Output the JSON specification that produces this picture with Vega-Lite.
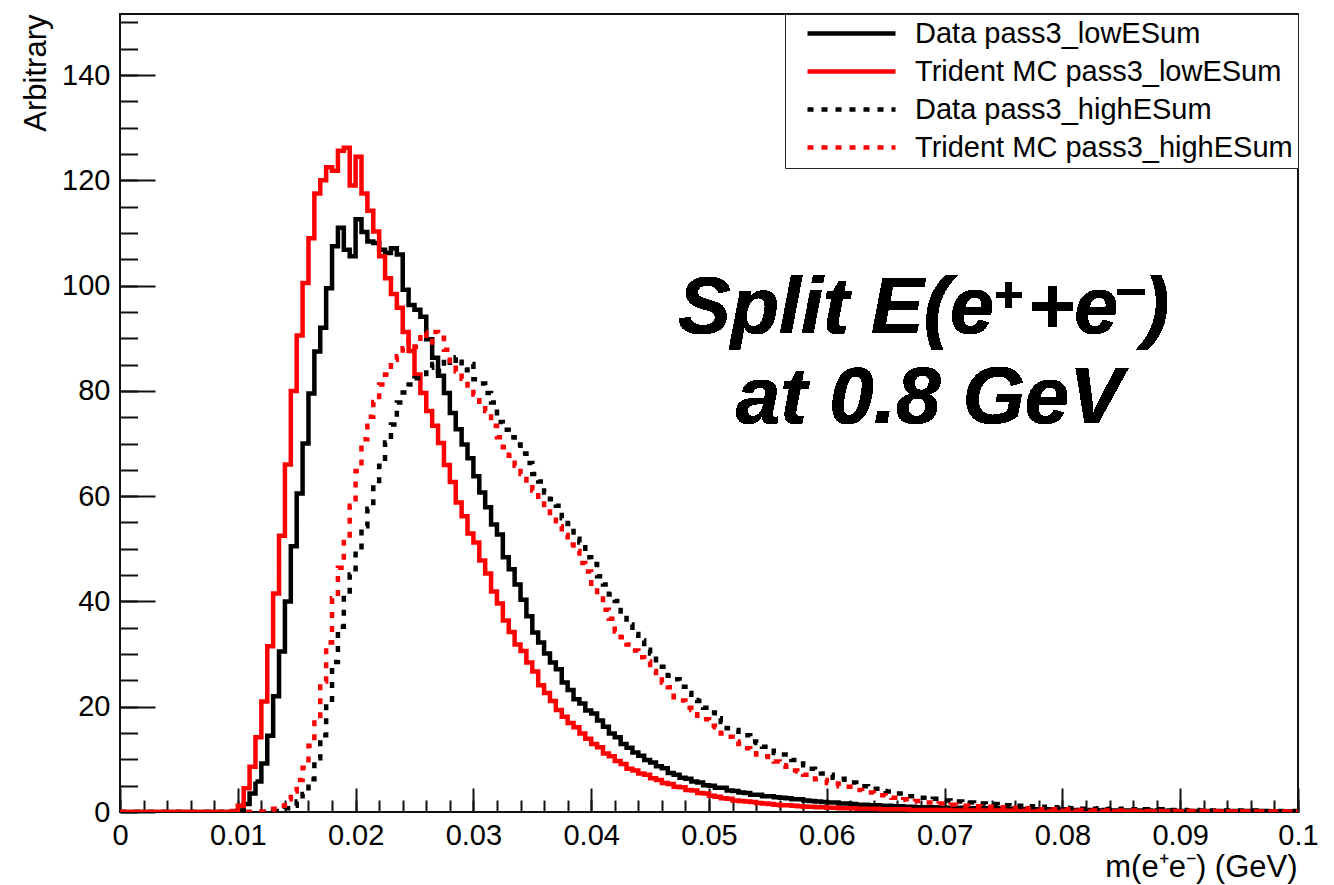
{
"$schema": "https://vega.github.io/schema/vega-lite/v6.json",
"width": 1178, "height": 798,
"autosize": {"type": "none"},
"padding": {"left": 120, "top": 14, "right": 36, "bottom": 73},
"background": "white",
"config": {"view": {"stroke": "#111", "strokeWidth": 2}, "font": "Liberation Sans"},
"data": {"values": [
{"m":0,"a":0,"b":0,"c":0,"d":0},{"m":0.0005,"a":0,"b":0,"c":0,"d":0},{"m":0.001,"a":0,"b":0,"c":0,"d":0},{"m":0.0015,"a":0,"b":0,"c":0,"d":0},{"m":0.002,"a":0,"b":0,"c":0,"d":0},
{"m":0.0025,"a":0,"b":0,"c":0,"d":0},{"m":0.003,"a":0,"b":0,"c":0,"d":0},{"m":0.0035,"a":0,"b":0,"c":0,"d":0},{"m":0.004,"a":0,"b":0,"c":0,"d":0},{"m":0.0045,"a":0,"b":0,"c":0,"d":0},
{"m":0.005,"a":0,"b":0,"c":0,"d":0},{"m":0.0055,"a":0,"b":0,"c":0,"d":0},{"m":0.006,"a":0,"b":0,"c":0,"d":0},{"m":0.0065,"a":0,"b":0,"c":0,"d":0},{"m":0.007,"a":0,"b":0,"c":0,"d":0},
{"m":0.0075,"a":0,"b":0,"c":0,"d":0},{"m":0.008,"a":0,"b":0,"c":0,"d":0},{"m":0.0085,"a":0,"b":0,"c":0,"d":0},{"m":0.009,"a":0,"b":0,"c":0,"d":0},
{"m":0.0095,"a":0,"b":0.2,"c":0,"d":0},
{"m":0.01,"a":0.3,"b":1.2,"c":0,"d":0},
{"m":0.0105,"a":1.5,"b":4.5,"c":0,"d":0},
{"m":0.011,"a":3.5,"b":8.6,"c":0,"d":0},
{"m":0.0115,"a":5.8,"b":14.2,"c":0,"d":0},
{"m":0.012,"a":9.2,"b":21,"c":0,"d":0.1},
{"m":0.0125,"a":14.5,"b":31.5,"c":0.1,"d":0.3},
{"m":0.013,"a":22,"b":41.5,"c":0.2,"d":0.6},
{"m":0.0135,"a":30.5,"b":52.5,"c":0.4,"d":1.2},
{"m":0.014,"a":40,"b":66,"c":0.7,"d":2.4},
{"m":0.0145,"a":50.5,"b":80,"c":1.2,"d":3.9},
{"m":0.015,"a":60.5,"b":90.5,"c":2,"d":6.1},
{"m":0.0155,"a":70,"b":100.5,"c":3.4,"d":8.4},
{"m":0.016,"a":79.5,"b":109,"c":6.2,"d":12.6},
{"m":0.0165,"a":87.5,"b":117.5,"c":10.2,"d":17.6},
{"m":0.017,"a":92,"b":120,"c":14.6,"d":24.8},
{"m":0.0175,"a":99.5,"b":122.5,"c":20.5,"d":32.2},
{"m":0.018,"a":107.5,"b":121.8,"c":28.5,"d":40.6},
{"m":0.0185,"a":111,"b":125.6,"c":35.2,"d":46.4},
{"m":0.019,"a":106.8,"b":126.2,"c":41.2,"d":51.3},
{"m":0.0195,"a":105.6,"b":119,"c":45.1,"d":58.2},
{"m":0.02,"a":112.6,"b":124.5,"c":49.8,"d":64.8},
{"m":0.0205,"a":110.2,"b":117.5,"c":54.3,"d":70.8},
{"m":0.021,"a":108.4,"b":114.2,"c":57.6,"d":75.1},
{"m":0.0215,"a":108.1,"b":110.3,"c":62.3,"d":77.9},
{"m":0.022,"a":106.8,"b":105.6,"c":65.8,"d":81.2},
{"m":0.0225,"a":106.2,"b":101.4,"c":70.2,"d":83.1},
{"m":0.023,"a":107.1,"b":98.4,"c":73.6,"d":85.9},
{"m":0.0235,"a":105.9,"b":95.8,"c":77.8,"d":86.6},
{"m":0.024,"a":99.2,"b":91.2,"c":79.7,"d":88.1},
{"m":0.0245,"a":96.3,"b":87.6,"c":81.2,"d":89.6},
{"m":0.025,"a":95.4,"b":83.1,"c":82.4,"d":88.4},
{"m":0.0255,"a":94.1,"b":79.6,"c":83.2,"d":91.1},
{"m":0.026,"a":89.8,"b":76.2,"c":84.4,"d":89.2},
{"m":0.0265,"a":86.3,"b":73.4,"c":85.1,"d":91.2},
{"m":0.027,"a":82.9,"b":70.1,"c":83.8,"d":90.1},
{"m":0.0275,"a":79.6,"b":65.9,"c":86.2,"d":87.8},
{"m":0.028,"a":75.8,"b":62.7,"c":84.9,"d":85.2},
{"m":0.0285,"a":72.7,"b":58.8,"c":86.4,"d":83.7},
{"m":0.029,"a":69.8,"b":56.2,"c":83.9,"d":82.3},
{"m":0.0295,"a":67.2,"b":52.9,"c":85.1,"d":80.6},
{"m":0.03,"a":63.8,"b":51.2,"c":82.2,"d":79.3},
{"m":0.0305,"a":60.7,"b":47.8,"c":81.4,"d":77.4},
{"m":0.031,"a":57.9,"b":45.3,"c":79.6,"d":76.2},
{"m":0.0315,"a":54.6,"b":41.9,"c":77.8,"d":73.4},
{"m":0.032,"a":52.7,"b":39.6,"c":74.1,"d":71.2},
{"m":0.0325,"a":48.4,"b":36.4,"c":72.6,"d":69.3},
{"m":0.033,"a":46.1,"b":34.2,"c":71.2,"d":67.7},
{"m":0.0335,"a":43.2,"b":31.8,"c":69.8,"d":65.8},
{"m":0.034,"a":40.3,"b":30.6,"c":68.1,"d":64.2},
{"m":0.0345,"a":37.2,"b":28.4,"c":66.3,"d":62.4},
{"m":0.035,"a":34.1,"b":26.7,"c":64.2,"d":61.1},
{"m":0.0355,"a":32.2,"b":24.1,"c":62.8,"d":59.3},
{"m":0.036,"a":30.1,"b":22.6,"c":60.7,"d":57.6},
{"m":0.0365,"a":28.4,"b":21.1,"c":59.4,"d":56.2},
{"m":0.037,"a":27.1,"b":19.4,"c":58.2,"d":54.3},
{"m":0.0375,"a":24.6,"b":18.1,"c":55.8,"d":52.6},
{"m":0.038,"a":23.2,"b":16.9,"c":54.7,"d":50.8},
{"m":0.0385,"a":21.4,"b":16.1,"c":51.9,"d":49.6},
{"m":0.039,"a":20.6,"b":14.9,"c":51.2,"d":47.3},
{"m":0.0395,"a":19.3,"b":13.9,"c":48.4,"d":45.7},
{"m":0.04,"a":18.7,"b":12.9,"c":47.1,"d":42.9},
{"m":0.0405,"a":17.4,"b":12.3,"c":44.8,"d":41.2},
{"m":0.041,"a":16.2,"b":11.1,"c":43.2,"d":38.4},
{"m":0.0415,"a":14.9,"b":10.6,"c":41.3,"d":36.7},
{"m":0.042,"a":14.2,"b":9.7,"c":40.1,"d":34.3},
{"m":0.0425,"a":12.9,"b":9.1,"c":37.4,"d":33.2},
{"m":0.043,"a":12.2,"b":8.2,"c":35.6,"d":31.8},
{"m":0.0435,"a":11.3,"b":7.9,"c":33.8,"d":30.7},
{"m":0.044,"a":10.7,"b":7.3,"c":32.6,"d":29.4},
{"m":0.0445,"a":9.9,"b":7.1,"c":30.8,"d":28.6},
{"m":0.045,"a":9.4,"b":6.4,"c":30.1,"d":26.8},
{"m":0.0455,"a":8.7,"b":6.1,"c":28.3,"d":25.7},
{"m":0.046,"a":8.3,"b":5.5,"c":27.6,"d":24.6},
{"m":0.0465,"a":7.4,"b":5.3,"c":25.9,"d":23.7},
{"m":0.047,"a":7.1,"b":4.8,"c":25.2,"d":21.8},
{"m":0.0475,"a":6.5,"b":4.7,"c":23.8,"d":21.2},
{"m":0.048,"a":6.3,"b":4.2,"c":22.6,"d":19.8},
{"m":0.0485,"a":5.8,"b":4.1,"c":21.3,"d":19.4},
{"m":0.049,"a":5.6,"b":3.6,"c":21.1,"d":18.3},
{"m":0.0495,"a":5.1,"b":3.5,"c":19.8,"d":17.6},
{"m":0.05,"a":5,"b":3.1,"c":18.9,"d":16.4},
{"m":0.0505,"a":4.6,"b":2.9,"c":17.8,"d":16.1},
{"m":0.051,"a":4.6,"b":2.6,"c":17.1,"d":14.9},
{"m":0.0515,"a":4.1,"b":2.5,"c":15.9,"d":14.3},
{"m":0.052,"a":4,"b":2.2,"c":15.6,"d":13.4},
{"m":0.0525,"a":3.7,"b":2.1,"c":14.8,"d":12.9},
{"m":0.053,"a":3.6,"b":2,"c":14.6,"d":12.1},
{"m":0.0535,"a":3.3,"b":1.9,"c":13.4,"d":11.6},
{"m":0.054,"a":3.3,"b":1.7,"c":13.1,"d":10.9},
{"m":0.0545,"a":3,"b":1.6,"c":12.4,"d":10.6},
{"m":0.055,"a":3,"b":1.5,"c":12.1,"d":9.9},
{"m":0.0555,"a":2.8,"b":1.4,"c":11.2,"d":9.6},
{"m":0.056,"a":2.7,"b":1.3,"c":10.9,"d":8.9},
{"m":0.0565,"a":2.6,"b":1.3,"c":10.2,"d":8.6},
{"m":0.057,"a":2.4,"b":1.2,"c":9.9,"d":7.9},
{"m":0.0575,"a":2.4,"b":1.1,"c":9.2,"d":7.7},
{"m":0.058,"a":2.2,"b":1,"c":8.9,"d":7.1},
{"m":0.0585,"a":2.1,"b":1,"c":8.2,"d":6.9},
{"m":0.059,"a":2,"b":0.9,"c":8,"d":6.2},
{"m":0.0595,"a":1.9,"b":0.9,"c":7.3,"d":6.1},
{"m":0.06,"a":1.8,"b":0.8,"c":7.1,"d":5.5},
{"m":0.0605,"a":1.8,"b":0.8,"c":6.5,"d":5.4},
{"m":0.061,"a":1.6,"b":0.7,"c":6.3,"d":4.9},
{"m":0.0615,"a":1.6,"b":0.7,"c":5.7,"d":4.8},
{"m":0.062,"a":1.5,"b":0.7,"c":5.6,"d":4.3},
{"m":0.0625,"a":1.4,"b":0.6,"c":5,"d":4.2},
{"m":0.063,"a":1.4,"b":0.6,"c":4.9,"d":3.7},
{"m":0.0635,"a":1.3,"b":0.6,"c":4.4,"d":3.7},
{"m":0.064,"a":1.3,"b":0.6,"c":4.4,"d":3.2},
{"m":0.0645,"a":1.2,"b":0.5,"c":4,"d":3.2},
{"m":0.065,"a":1.2,"b":0.5,"c":3.9,"d":2.8},
{"m":0.0655,"a":1.1,"b":0.5,"c":3.5,"d":2.7},
{"m":0.066,"a":1.1,"b":0.5,"c":3.5,"d":2.3},
{"m":0.0665,"a":1,"b":0.5,"c":3,"d":2.4},
{"m":0.067,"a":1,"b":0.4,"c":3,"d":2},
{"m":0.0675,"a":0.9,"b":0.4,"c":2.7,"d":2.1},
{"m":0.068,"a":0.9,"b":0.4,"c":2.7,"d":1.8},
{"m":0.0685,"a":0.9,"b":0.4,"c":2.4,"d":1.8},
{"m":0.069,"a":0.9,"b":0.4,"c":2.5,"d":1.5},
{"m":0.0695,"a":0.8,"b":0.4,"c":2.2,"d":1.6},
{"m":0.07,"a":0.8,"b":0.4,"c":2.2,"d":1.3},
{"m":0.0705,"a":0.8,"b":0.3,"c":1.9,"d":1.4},
{"m":0.071,"a":0.8,"b":0.3,"c":2,"d":1.2},
{"m":0.0715,"a":0.7,"b":0.3,"c":1.7,"d":1.2},
{"m":0.072,"a":0.7,"b":0.3,"c":1.8,"d":1},
{"m":0.0725,"a":0.7,"b":0.3,"c":1.5,"d":1.1},
{"m":0.073,"a":0.7,"b":0.3,"c":1.6,"d":0.9},
{"m":0.0735,"a":0.6,"b":0.3,"c":1.4,"d":1},
{"m":0.074,"a":0.7,"b":0.3,"c":1.5,"d":0.8},
{"m":0.0745,"a":0.6,"b":0.3,"c":1.2,"d":0.9},
{"m":0.075,"a":0.6,"b":0.3,"c":1.3,"d":0.7},
{"m":0.0755,"a":0.6,"b":0.2,"c":1.1,"d":0.8},
{"m":0.076,"a":0.6,"b":0.3,"c":1.2,"d":0.6},
{"m":0.0765,"a":0.5,"b":0.2,"c":1,"d":0.7},
{"m":0.077,"a":0.6,"b":0.2,"c":1.1,"d":0.6},
{"m":0.0775,"a":0.5,"b":0.2,"c":0.9,"d":0.6},
{"m":0.078,"a":0.5,"b":0.2,"c":1,"d":0.5},
{"m":0.0785,"a":0.5,"b":0.2,"c":0.8,"d":0.6},
{"m":0.079,"a":0.5,"b":0.2,"c":0.9,"d":0.5},
{"m":0.0795,"a":0.4,"b":0.2,"c":0.8,"d":0.5},
{"m":0.08,"a":0.5,"b":0.2,"c":0.8,"d":0.4},
{"m":0.0805,"a":0.4,"b":0.2,"c":0.7,"d":0.5},
{"m":0.081,"a":0.4,"b":0.2,"c":0.8,"d":0.4},
{"m":0.0815,"a":0.4,"b":0.2,"c":0.6,"d":0.4},
{"m":0.082,"a":0.4,"b":0.1,"c":0.7,"d":0.4},
{"m":0.0825,"a":0.4,"b":0.2,"c":0.6,"d":0.3},
{"m":0.083,"a":0.3,"b":0.1,"c":0.7,"d":0.4},
{"m":0.0835,"a":0.4,"b":0.1,"c":0.5,"d":0.3},
{"m":0.084,"a":0.3,"b":0.1,"c":0.6,"d":0.3},
{"m":0.0845,"a":0.3,"b":0.1,"c":0.5,"d":0.3},
{"m":0.085,"a":0.3,"b":0.1,"c":0.6,"d":0.3},
{"m":0.0855,"a":0.3,"b":0.1,"c":0.5,"d":0.2},
{"m":0.086,"a":0.3,"b":0.1,"c":0.5,"d":0.3},
{"m":0.0865,"a":0.3,"b":0.1,"c":0.4,"d":0.2},
{"m":0.087,"a":0.3,"b":0.1,"c":0.5,"d":0.2},
{"m":0.0875,"a":0.2,"b":0.1,"c":0.4,"d":0.2},
{"m":0.088,"a":0.3,"b":0.1,"c":0.5,"d":0.2},
{"m":0.0885,"a":0.2,"b":0.1,"c":0.4,"d":0.2},
{"m":0.089,"a":0.3,"b":0.1,"c":0.4,"d":0.2},
{"m":0.0895,"a":0.2,"b":0.1,"c":0.4,"d":0.2},
{"m":0.09,"a":0.2,"b":0.1,"c":0.4,"d":0.2},
{"m":0.0905,"a":0.2,"b":0.1,"c":0.3,"d":0.2},
{"m":0.091,"a":0.2,"b":0.1,"c":0.4,"d":0.1},
{"m":0.0915,"a":0.2,"b":0.1,"c":0.3,"d":0.2},
{"m":0.092,"a":0.2,"b":0.1,"c":0.4,"d":0.1},
{"m":0.0925,"a":0.2,"b":0.1,"c":0.3,"d":0.1},
{"m":0.093,"a":0.2,"b":0.1,"c":0.3,"d":0.2},
{"m":0.0935,"a":0.2,"b":0.1,"c":0.3,"d":0.1},
{"m":0.094,"a":0.2,"b":0.1,"c":0.3,"d":0.1},
{"m":0.0945,"a":0.2,"b":0.1,"c":0.3,"d":0.1},
{"m":0.095,"a":0.1,"b":0.1,"c":0.3,"d":0.1},
{"m":0.0955,"a":0.2,"b":0.1,"c":0.2,"d":0.1},
{"m":0.096,"a":0.1,"b":0.1,"c":0.3,"d":0.1},
{"m":0.0965,"a":0.2,"b":0,"c":0.2,"d":0.1},
{"m":0.097,"a":0.1,"b":0.1,"c":0.2,"d":0.1},
{"m":0.0975,"a":0.1,"b":0,"c":0.2,"d":0.1},
{"m":0.098,"a":0.1,"b":0.1,"c":0.2,"d":0.1},
{"m":0.0985,"a":0.1,"b":0,"c":0.2,"d":0.1},
{"m":0.099,"a":0.1,"b":0.1,"c":0.2,"d":0.1},
{"m":0.0995,"a":0.1,"b":0,"c":0.2,"d":0.1},
{"m":0.1,"a":0.1,"b":0,"c":0.2,"d":0.1}
]},
"layer": [
{
"transform": [{"fold": ["a", "b", "c", "d"], "as": ["s", "v"]}],
"mark": {"type": "line", "interpolate": "step-after", "strokeWidth": 4.5, "clip": true, "strokeCap": "butt"},
"encoding": {
"x": {"field": "m", "type": "quantitative",
 "scale": {"domain": [0, 0.1], "nice": false, "zero": false},
 "axis": {"orient": "bottom", "values": [0,0.01,0.02,0.03,0.04,0.05,0.06,0.07,0.08,0.09,0.1], "format": "~g",
  "labelFlush": false, "labelOverlap": false, "tickSize": -24, "tickWidth": 2, "tickColor": "#111", "domain": false, "grid": false,
  "labelPadding": 33, "labelFontSize": 29, "labelFont": "Liberation Sans", "labelColor": "black", "labelBaseline": "top",
  "title": "m(e⁺e⁻) (GeV)", "titleFont": "Liberation Sans", "titleFontSize": 31, "titleFontWeight": "normal", "titleColor": "black",
  "titleX": 1177, "titleY": 64, "titleAlign": "right", "titleBaseline": "alphabetic", "titleAngle": 0}},
"y": {"field": "v", "type": "quantitative",
 "scale": {"domain": [0, 151.6], "nice": false, "zero": false},
 "axis": {"orient": "left", "values": [0,20,40,60,80,100,120,140], "format": "d",
  "labelOverlap": false, "labelFlush": false, "tickSize": -35, "tickWidth": 2, "tickColor": "#111", "domain": false, "grid": false,
  "labelPadding": 45, "labelFontSize": 29, "labelFont": "Liberation Sans", "labelColor": "black",
  "title": "Arbitrary", "titleFont": "Liberation Sans", "titleFontSize": 31, "titleFontWeight": "normal", "titleColor": "black",
  "titleX": -84, "titleY": 0, "titleAlign": "right", "titleBaseline": "middle", "titleAngle": -90}},
"color": {"field": "s", "type": "nominal",
 "scale": {"domain": ["a", "b", "c", "d"], "range": ["#000000", "#ff0000", "#000000", "#ff0000"]},
 "legend": {"orient": "top-right", "offset": 0, "title": null, "fillColor": "white", "strokeColor": "#222", "padding": 5,
  "symbolType": "stroke", "symbolSize": 7744, "symbolStrokeWidth": 4.5, "symbolOffset": 15, "labelOffset": 17,
  "labelFontSize": 29, "labelFont": "Liberation Sans", "labelColor": "black", "labelLimit": 600, "rowPadding": 8, "clipHeight": 29,
  "labelExpr": "{'a':'Data pass3_lowESum','b':'Trident MC pass3_lowESum','c':'Data pass3_highESum','d':'Trident MC pass3_highESum'}[datum.label]"}},
"strokeDash": {"field": "s", "type": "nominal",
 "scale": {"domain": ["a", "b", "c", "d"], "range": [[1, 0], [1, 0], [6, 8], [6, 8]]},
 "legend": {"orient": "top-right", "offset": 0, "title": null, "fillColor": "white", "strokeColor": "#222", "padding": 5,
  "symbolType": "stroke", "symbolSize": 7744, "symbolStrokeWidth": 4.5, "symbolOffset": 15, "labelOffset": 17,
  "labelFontSize": 29, "labelFont": "Liberation Sans", "labelColor": "black", "labelLimit": 600, "rowPadding": 8, "clipHeight": 29,
  "labelExpr": "{'a':'Data pass3_lowESum','b':'Trident MC pass3_lowESum','c':'Data pass3_highESum','d':'Trident MC pass3_highESum'}[datum.label]"}}
}
},
{
"mark": {"type": "text", "font": "Liberation Sans", "fontSize": 79, "fontWeight": "bold", "fontStyle": "italic", "align": "left", "baseline": "alphabetic", "color": "black"},
"encoding": {
"x": {"datum": 0.04737, "type": "quantitative",
 "axis": {"orient": "bottom", "values": [0,0.002,0.004,0.006,0.008,0.01,0.012,0.014,0.016,0.018,0.02,0.022,0.024,0.026,0.028,0.03,0.032,0.034,0.036,0.038,0.04,0.042,0.044,0.046,0.048,0.05,0.052,0.054,0.056,0.058,0.06,0.062,0.064,0.066,0.068,0.07,0.072,0.074,0.076,0.078,0.08,0.082,0.084,0.086,0.088,0.09,0.092,0.094,0.096,0.098,0.1],
  "labels": false, "tickSize": -12, "tickWidth": 2, "tickColor": "#111", "domain": false, "grid": false, "title": null}},
"y": {"datum": 91, "type": "quantitative",
 "axis": {"orient": "left", "values": [0,5,10,15,20,25,30,35,40,45,50,55,60,65,70,75,80,85,90,95,100,105,110,115,120,125,130,135,140,145,150],
  "labels": false, "tickSize": -17.5, "tickWidth": 2, "tickColor": "#111", "domain": false, "grid": false, "title": null}},
"text": {"value": "Split E(e"}
}
},
{
"mark": {"type": "text", "font": "Liberation Sans", "fontSize": 50, "fontWeight": "bold", "align": "left", "baseline": "alphabetic", "color": "black"},
"encoding": {
"x": {"datum": 0.07419, "type": "quantitative", "axis": null},
"y": {"datum": 94.9, "type": "quantitative", "axis": null},
"text": {"value": "+"}
}
},
{
"mark": {"type": "text", "font": "Liberation Sans", "fontSize": 79, "fontWeight": "bold", "fontStyle": "italic", "align": "left", "baseline": "alphabetic", "color": "black"},
"encoding": {
"x": {"datum": 0.07708, "type": "quantitative", "axis": null},
"y": {"datum": 91, "type": "quantitative", "axis": null},
"text": {"value": "+e"}
}
},
{
"mark": {"type": "text", "font": "Liberation Sans", "fontSize": 54, "fontWeight": "bold", "align": "left", "baseline": "alphabetic", "color": "black"},
"encoding": {
"x": {"datum": 0.08455, "type": "quantitative", "axis": null},
"y": {"datum": 96, "type": "quantitative", "axis": null},
"text": {"value": "–"}
}
},
{
"mark": {"type": "text", "font": "Liberation Sans", "fontSize": 79, "fontWeight": "bold", "fontStyle": "italic", "align": "left", "baseline": "alphabetic", "color": "black"},
"encoding": {
"x": {"datum": 0.08684, "type": "quantitative", "axis": null},
"y": {"datum": 91, "type": "quantitative", "axis": null},
"text": {"value": ")"}
}
},
{
"mark": {"type": "text", "font": "Liberation Sans", "fontSize": 80, "fontWeight": "bold", "fontStyle": "italic", "align": "center", "baseline": "alphabetic", "color": "black"},
"encoding": {
"x": {"datum": 0.0687, "type": "quantitative", "axis": null},
"y": {"datum": 73.9, "type": "quantitative", "axis": null},
"text": {"value": "at 0.8 GeV"}
}
}
],
"resolve": {"axis": {"x": "independent", "y": "independent"}}
}
